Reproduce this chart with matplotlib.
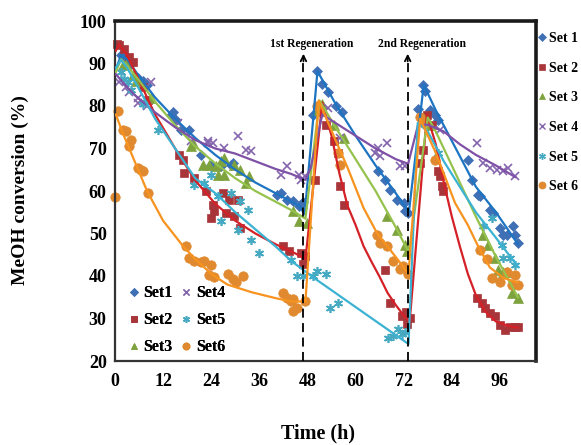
import matplotlib
matplotlib.use("Agg")
import matplotlib.pyplot as plt
from matplotlib.lines import Line2D

plt.rcParams["font.family"] = ["Liberation Serif", "DejaVu Serif"]
plt.rcParams["font.weight"] = "bold"

# measured points (time h, MeOH conversion %)
set1_t = [1.5, 2.7, 4, 5.7, 7, 8, 13.9, 14.5, 15.2, 16.4, 18.4, 21.4, 23.9, 26.4, 28.9, 29.4,
          40.5, 41.3, 43, 44.5, 46, 46.8,
          49.3, 50.5, 51.7, 53, 55, 56.7, 65.7, 67.4, 68.7, 70.4, 72, 72.4, 73,
          75.6, 76.9, 77.4, 78.6, 79.9, 80.6, 88, 89, 90.5, 91, 93.5, 94.3, 96, 96.8, 97.8,
          99.3, 99.8, 100.5]
set1_conv = [92, 91, 89.8, 86.7, 86, 85, 78, 78.5, 76.8, 74.4, 74.4, 68.5, 66.1, 65.9, 66.1, 66.6,
             59, 59.5, 57.9, 57.6, 56.5, 57.5,
             78, 88.2, 85.1, 83.2, 80.1, 78.5, 64.7, 62.6, 60.2, 57.9, 57.2, 55.3, 54.8,
             79.2, 84.9, 83.5, 79, 78, 76.8, 67.3, 62.6, 59, 58.8, 55.5, 54.8, 51.2, 49.6, 49.6,
             51.7, 49.6, 47.7]

set2_t = [0.5, 1, 2.2, 3.5, 4.5, 7, 8.2, 15.9, 16.9, 17.2, 19.7, 22.6, 24.4, 24.6, 26.9, 28.4,
          30.6, 27.6, 29.6, 23.9, 31.3, 42, 43.3, 46.3, 47.5, 47,
          50, 52.5, 54.5, 55.7, 56.2, 57, 67.4, 68.7, 71.6, 72.9, 73.6, 72.5,
          76.1, 76.9, 77.8, 79.1, 80.6, 81.1, 81.6, 81.8, 90.3, 91.5, 92.3, 93.5, 94.8, 96,
          97.3, 98.5, 99.8, 100.5]
set2_conv = [94.5, 94.3, 93.4, 91.5, 90.3, 84.4, 81.3, 68.5, 67.3, 64.3, 63.1, 60, 56.7, 55.3, 59.5, 57.9,
             57.9, 54.8, 54.1, 53.6, 51.2, 47, 45.8, 45.3, 44.6, 42.8,
             62.6, 75.6, 71.8, 69, 61.2, 56.7, 41.5, 33.6, 30.7, 28.8, 30.2, 31.6,
             66.6, 69.7, 78, 75.6, 64.7, 63.5, 61.2, 60, 34.8, 33.6, 32.5, 31.4, 30.7, 28.4,
             27.3, 28, 28, 28]

set3_t = [2, 2.7, 4.5, 5.2, 9, 18.9, 19.4, 21.9, 23.4, 25.1, 26.4, 27.1, 29.6, 25.6, 27.1, 31.3,
          32.6, 33.3, 44.3, 45.8, 48,
          50.5, 51.7, 54.5, 57, 67.9, 70.4, 72.4, 72.8,
          77.5, 78.5, 91.8, 93, 94.8, 95.5, 96.8, 97.8, 99, 100.5]
set3_conv = [89.6, 89.8, 87.2, 86, 82, 70.6, 71.4, 66.1, 66.1, 65.9, 67.1, 67.8, 66.1, 63.8, 63.8, 65,
             61.9, 63.5, 55.3, 52.9, 52.4,
             79, 80.4, 75.6, 72.5, 54.1, 50.8, 47.2, 45.9,
             77, 75.5, 49.6, 47.2, 44.3, 41.5, 41, 41, 36, 34.9]

set4_t = [1, 2.7, 3.5, 5.7, 9, 5.7, 8, 15.7, 18.9, 23.1, 24.4, 23.1, 27.1, 30.6, 32.6, 33.8,
          41.3, 43, 45.8, 47.5, 46.5,
          53, 56.2, 64.9, 65.7, 67.9, 66.2, 71.1, 72.4,
          81.1, 90.3, 91.8, 93.5, 95.3, 96.8, 98, 99.8]
set4_conv = [85.6, 84.4, 83.2, 82, 85.6, 80.8, 80, 76, 71.8, 71.8, 71.4, 71.4, 70.2, 73, 69.7, 69.5,
             63.8, 65.9, 63.8, 63.5, 62.5,
             79.6, 72.5, 69, 70.2, 71.4, 68.3, 66, 66,
             74.4, 71.4, 66.6, 65.4, 65, 64.7, 65.4, 63.5]

set5_t = [1.5, 2.2, 3.2, 4, 7, 10.7, 19.7, 22.1, 23.9, 25.6, 28.9, 31.3, 33.1, 26.4, 30.6, 33.8,
          35.8, 43.8, 45.5, 47, 49.3, 50.5, 52.5,
          53.7, 55.7, 68.2, 69.4, 70.6, 72.4, 71.5,
          80.6, 91.8, 94, 96.5, 96.8, 98.5, 99.8]
set5_conv = [88, 86.3, 85.6, 83.7, 80.4, 74.4, 61.4, 61.9, 63.8, 58.8, 59.5, 57.6, 55.5, 52.9, 50.8, 48.4,
             45.5, 43.8, 40, 40, 40, 41.1, 40.4,
             32.5, 33.6, 25.4, 26, 27.6, 26.8, 26.3,
             69, 51.7, 53.6, 47.2, 44.3, 44.3, 42.5]

set6_t = [0, 0.7, 2, 2.7, 4, 3.5, 5.7, 6.5, 7, 8.2, 17.7, 18.5, 19.7, 21.4, 22.1, 23.9, 23.4, 24.6,
          28.1, 29.4, 30.1, 31.8, 41.8, 43, 44.3, 45.5, 43.8, 47.5, 44.5,
          50.5, 51.5, 55.5, 56.2, 65.4, 66.2, 67.9, 69.4, 71.1, 71.9, 73.1,
          76, 77, 79.9, 91, 92.8, 94, 96, 97.8, 99, 99.8, 100.5]
set6_conv = [58.5, 78.9, 74.4, 74.2, 72.1, 70.6, 65.4, 65, 64.7, 59.5, 47, 44.3, 43.6, 43.2, 43.6, 42.5, 40.3, 39.8,
             40.5, 39.3, 38.7, 40, 35.9, 34.8, 34.6, 32.4, 34.1, 34.1, 31.7,
             80, 78.5, 69, 66.2, 49.6, 47.7, 47, 43.6, 41.6, 42.4, 40.5,
             77.5, 76, 67.3, 46.2, 44, 39.5, 38.7, 41, 38, 40.3, 38]

# fitted trend lines
set1_fit_t = [0.2, 1.5, 3, 6, 10, 15, 20, 25, 30, 35, 40, 44, 46, 47.3,
              50.5, 55, 60, 65, 70, 73.3, 77, 80, 85, 90, 95, 100.5]
set1_fit_conv = [88.5, 92, 91, 87, 82, 77, 72.5, 68.5, 65, 62, 59.5, 57.5, 56.5, 54.5,
                 88.2, 80.5, 73, 66, 59.5, 55, 85, 79, 70, 61, 55, 47.5]

set2_fit_t = [0.2, 1, 3, 6, 10, 15, 20, 25, 30, 35, 40, 45, 47.5,
              51.7, 54, 56, 58, 60, 62, 64, 66, 68, 70, 72, 73.5,
              77.8, 80, 82, 84, 86, 88, 90, 92.5, 95, 98, 100.5]
set2_fit_conv = [93, 94.5, 92, 86, 78, 70, 62.5, 57, 53, 50, 47.5, 45.3, 44,
                 80.8, 73, 64, 56.5, 52, 47, 43.3, 39.8, 36, 33.2, 30.7, 29.3,
                 78, 71, 62, 54, 47, 40.5, 35.5, 31.5, 29.3, 28.3, 27.8]

set3_fit_t = [0.2, 1.5, 3, 6, 10, 15, 20, 25, 30, 35, 40, 44, 47.5,
              51, 55, 60, 65, 70, 73.3, 78, 80, 85, 90, 95, 100.5]
set3_fit_conv = [88, 91, 89.5, 86, 81, 75.5, 70.5, 66.5, 63, 60, 57.5, 55.5, 53.5,
                 81.3, 75, 67.5, 60, 51.5, 45.5, 77.3, 74, 64, 54, 44.5, 35]

set4_fit_t = [0.2, 2, 5, 10, 15, 20, 25, 30, 35, 40, 44, 47.5, 48.8,
              51.7, 55, 60, 65, 70, 73.1, 75.6, 77.9, 82, 86, 90, 95, 99.8]
set4_fit_conv = [87.5, 85.5, 82.5, 78.5, 75, 72, 70, 68.8, 67, 65.2, 64, 62.6, 65.4,
                 78, 76, 73, 70, 67.5, 66.4, 75.6, 75.6, 74, 71, 68.5, 66, 63.3]

set5_fit_t = [0.2, 1.5, 3, 6, 10, 15, 20, 25, 30, 35, 40, 44, 50, 55, 60, 65, 70, 73.2,
              75.5, 78, 82, 86, 90, 95, 100.5]
set5_fit_conv = [89, 90.8, 89, 84, 77, 70, 63, 59.5, 55, 51, 47, 43.5, 39.3, 36, 32.7, 29.4, 26.1, 24,
                 76, 74, 67, 61, 55, 49, 42.2]

set6_fit_t = [0.2, 2, 4, 6, 8, 12, 17, 20, 24, 28, 34, 40, 44, 47.5,
              50.8, 55, 58, 62, 65.4, 70, 73.2,
              76.1, 80, 84.8, 88, 90.3, 93.5, 97, 100.5]
set6_fit_conv = [78, 73.5, 69, 64.5, 60, 53, 47, 44, 40.5, 38, 36.2, 34.8, 34, 34,
                 81.3, 72, 65.5, 56, 50, 44.5, 40.5,
                 77, 69, 57.2, 52, 47.5, 42, 39.5, 38.5]

regen_times = [47, 73]
regen_labels = ["1st Regeneration", "2nd Regeneration"]

marker_colors = ["#3f6fb5", "#a8353a", "#7ea33e", "#8465ad", "#46a9c2", "#e0892f"]
line_colors = ["#1c74c2", "#d42128", "#95c24c", "#7e51a6", "#3cb2d3", "#f7931e"]
markers = ["D", "s", "^", "x", (6, 2, 0), "o"]
sizes = [5.2, 6.2, 6.5, 6, 6.5, 6.8]

fig = plt.figure(figsize=(5.81, 4.45), dpi=100)
ax = fig.add_axes([115 / 581, 1 - 361 / 445, 421 / 581, 340 / 445])

series = [
    (set1_t, set1_conv, set1_fit_t, set1_fit_conv),
    (set2_t, set2_conv, set2_fit_t, set2_fit_conv),
    (set3_t, set3_conv, set3_fit_t, set3_fit_conv),
    (set4_t, set4_conv, set4_fit_t, set4_fit_conv),
    (set5_t, set5_conv, set5_fit_t, set5_fit_conv),
    (set6_t, set6_conv, set6_fit_t, set6_fit_conv),
]

for i, (t, conv, ft, fconv) in enumerate(series):
    mew = 1.2 if markers[i] in ("x", (6, 2, 0)) else 0.5
    ax.plot(t, conv, linestyle="none", marker=markers[i], markersize=sizes[i],
            color=marker_colors[i], markeredgewidth=mew, zorder=2, clip_on=False)
    ax.plot(ft, fconv, color=line_colors[i], lw=1.6, zorder=3)

for x, label, dx in zip(regen_times, regen_labels, [2, 3.5]):
    ax.plot([x, x], [20, 91.2], color="black", lw=1.3, linestyle=(0, (5, 3)), zorder=4)
    ax.annotate("", xy=(x, 92.3), xytext=(x, 90.5),
                arrowprops=dict(arrowstyle="->", color="black", lw=1.3,
                                mutation_scale=10, shrinkA=0, shrinkB=0), zorder=4)
    ax.text(x + dx, 94.6, label, ha="center", va="center", fontsize=8.4,
            fontweight="bold")

ax.set_xlim(0, 105)
ax.set_ylim(20, 100)
ax.set_xticks(range(0, 97, 12))
ax.set_yticks(range(20, 101, 10))
ax.tick_params(labelsize=13, length=0)
ax.tick_params(axis="x", pad=9)
ax.tick_params(axis="y", pad=6)
for lab in ax.get_xticklabels() + ax.get_yticklabels():
    lab.set_fontweight("bold")

for side in ("left", "bottom"):
    ax.spines[side].set_linewidth(1.6)
    ax.spines[side].set_color("#333333")
for side in ("top", "right"):
    ax.spines[side].set_linewidth(2.6)
    ax.spines[side].set_color("#1a1a1a")

fig.text(20 / 581, 1 - 190 / 445, "MeOH conversion (%)", rotation=90, ha="center",
         va="center", fontsize=14, fontweight="bold")
fig.text(318 / 581, 1 - 433 / 445, "Time (h)", ha="center", va="center",
         fontsize=14.5, fontweight="bold")

handles = []
for i in range(6):
    mew = 1.0 if markers[i] in ("x", (6, 2, 0)) else 0.5
    handles.append(Line2D([], [], linestyle="none", marker=markers[i],
                          markersize=sizes[i] * 0.75, color=marker_colors[i],
                          markeredgewidth=mew))

inner = ax.legend(handles, ["Set1", "Set2", "Set3", "Set4", "Set5", "Set6"], ncol=2,
                  loc="lower left", bbox_to_anchor=(0.01, -0.012), frameon=False,
                  prop={"size": 11.5, "weight": "bold"}, handlelength=0.6,
                  handletextpad=0.3, columnspacing=0.55, labelspacing=0.7,
                  borderaxespad=0.2)
ax.add_artist(inner)

fig.legend(handles, ["Set 1", "Set 2", "Set 3", "Set 4", "Set 5", "Set 6"],
           loc="upper left", bbox_to_anchor=(539 / 581, 1 - 32 / 445), frameon=False,
           prop={"size": 10, "weight": "bold"}, handlelength=0.5, handletextpad=0.2,
           labelspacing=1.2, borderaxespad=0.0, borderpad=0.0)

fig.savefig("out.png", dpi=100)
